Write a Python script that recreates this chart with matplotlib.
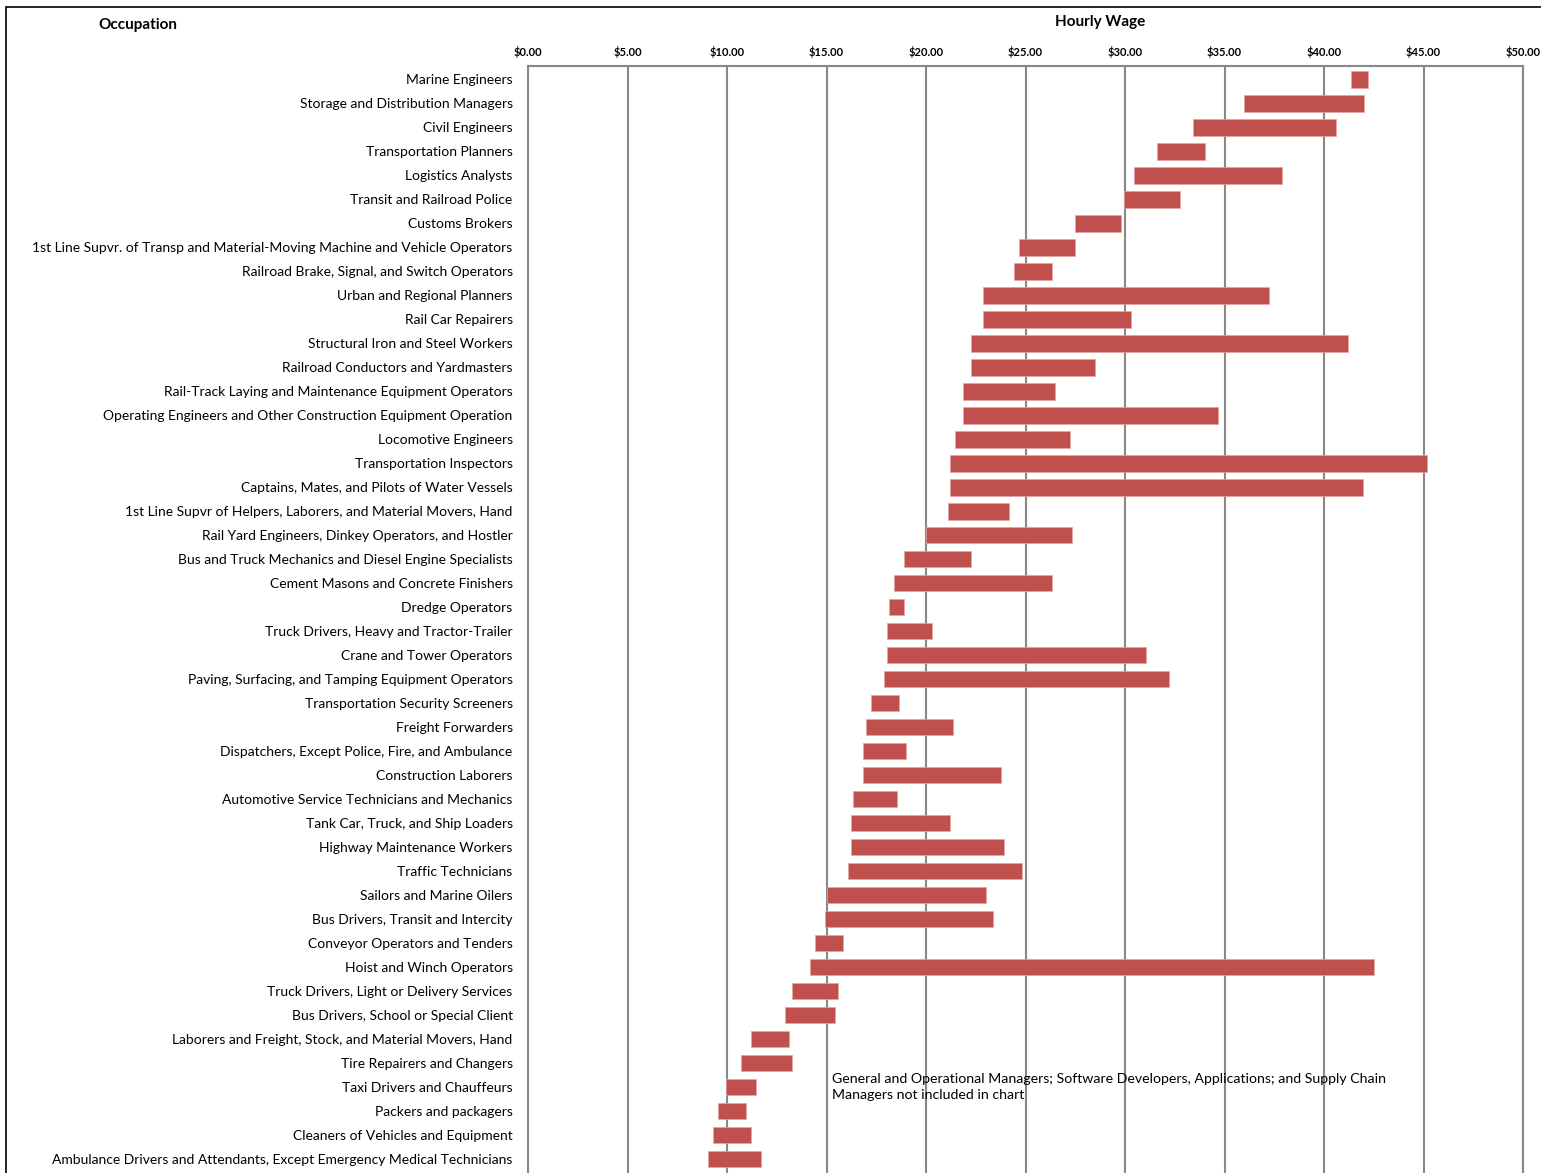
import matplotlib.pyplot as plt
from matplotlib.patches import Rectangle

plt.rcParams['font.family'] = ['Lato', 'DejaVu Sans']

occupations = [
    "Marine Engineers",
    "Storage and Distribution Managers",
    "Civil Engineers",
    "Transportation Planners",
    "Logistics Analysts",
    "Transit and Railroad Police",
    "Customs Brokers",
    "1st Line Supvr. of Transp and Material-Moving Machine and Vehicle Operators",
    "Railroad Brake, Signal, and Switch Operators",
    "Urban and Regional Planners",
    "Rail Car Repairers",
    "Structural Iron and Steel Workers",
    "Railroad Conductors and Yardmasters",
    "Rail-Track Laying and Maintenance Equipment Operators",
    "Operating Engineers and Other Construction Equipment Operation",
    "Locomotive Engineers",
    "Transportation Inspectors",
    "Captains, Mates, and Pilots of Water Vessels",
    "1st Line Supvr of Helpers, Laborers, and Material Movers, Hand",
    "Rail Yard Engineers, Dinkey Operators, and Hostler",
    "Bus and Truck Mechanics and Diesel Engine Specialists",
    "Cement Masons and Concrete Finishers",
    "Dredge Operators",
    "Truck Drivers, Heavy and Tractor-Trailer",
    "Crane and Tower Operators",
    "Paving, Surfacing, and Tamping Equipment Operators",
    "Transportation Security Screeners",
    "Freight Forwarders",
    "Dispatchers, Except Police, Fire, and Ambulance",
    "Construction Laborers",
    "Automotive Service Technicians and Mechanics",
    "Tank Car, Truck, and Ship Loaders",
    "Highway Maintenance Workers",
    "Traffic Technicians",
    "Sailors and Marine Oilers",
    "Bus Drivers, Transit and Intercity",
    "Conveyor Operators and Tenders",
    "Hoist and Winch Operators",
    "Truck Drivers, Light or Delivery Services",
    "Bus Drivers, School or Special Client",
    "Laborers and Freight, Stock, and Material Movers, Hand",
    "Tire Repairers and Changers",
    "Taxi Drivers and Chauffeurs",
    "Packers and packagers",
    "Cleaners of Vehicles and Equipment",
    "Ambulance Drivers and Attendants, Except Emergency Medical Technicians",
]

wage_low = [41.38, 35.96, 33.41, 31.62, 30.46, 29.96, 27.50, 24.69, 24.42, 22.88,
            22.88, 22.25, 22.24, 21.84, 21.84, 21.48, 21.21, 21.21, 21.09, 20.02,
            18.91, 18.40, 18.14, 18.02, 18.02, 17.90, 17.26, 16.99, 16.85, 16.85,
            16.34, 16.21, 16.21, 16.09, 15.02, 14.94, 14.43, 14.16, 13.26, 12.90,
            11.22, 10.70, 9.95, 9.54, 9.29, 9.03]

wage_high = [42.22, 42.00, 40.58, 34.04, 37.88, 32.75, 29.81, 27.50, 26.35, 37.25,
             30.31, 41.21, 28.51, 26.46, 34.65, 27.22, 45.17, 41.97, 24.16, 27.36,
             22.24, 26.34, 18.91, 20.31, 31.08, 32.23, 18.65, 21.34, 19.02, 23.78,
             18.53, 21.22, 23.90, 24.80, 23.00, 23.39, 15.82, 42.50, 15.57, 15.45,
             13.14, 13.26, 11.46, 10.95, 11.22, 11.73]

ticks = [0, 5, 10, 15, 20, 25, 30, 35, 40, 45, 50]
note = ("General and Operational Managers; Software Developers, Applications; and Supply Chain\n"
        "Managers not included in chart")

W, H = 1541, 1173
fig = plt.figure(figsize=(W / 100, H / 100), dpi=100)
ax = fig.add_axes([528 / W, 1 - 1182 / H, 995 / W, (1182 - 66) / H])

rows = list(range(len(occupations)))
widths = [h - l for l, h in zip(wage_low, wage_high)]
ax.barh(rows, widths, left=wage_low, height=0.7, color='#C0504D',
        edgecolor='#E6A5A3', linewidth=0.5, zorder=3)

ax.set_xlim(0, 50)
ax.set_ylim(len(occupations) - 0.04, -0.55)
ax.set_xticks(ticks)
ax.set_xticklabels([f"${t:.2f}" for t in ticks], fontsize=8, fontweight='bold')
ax.xaxis.tick_top()
ax.tick_params(axis='x', length=0, pad=6)
ax.set_yticks(rows)
ax.set_yticklabels(occupations, fontsize=10)
ax.tick_params(axis='y', length=0, pad=11)
ax.grid(axis='x', color='#888888', linewidth=1.5, zorder=0)
for s in ax.spines.values():
    s.set_color('#888888')
    s.set_linewidth(1.5)

ax.text(15.3, 41.4, note, fontsize=10.2, va='top', ha='left', linespacing=1.45, zorder=4)

fig.text(138 / W, 1 - 25 / H, "Occupation", fontsize=11, fontweight='bold',
         ha='center', va='center')
fig.text(1100 / W, 1 - 22 / H, "Hourly Wage", fontsize=11, fontweight='bold',
         ha='center', va='center')

fig.patches.append(Rectangle((6 / W, -0.1), 1.2, 1.1 - 7 / H, transform=fig.transFigure,
                             fill=False, edgecolor='black', linewidth=1.2))

fig.savefig("out.png", dpi=100)
